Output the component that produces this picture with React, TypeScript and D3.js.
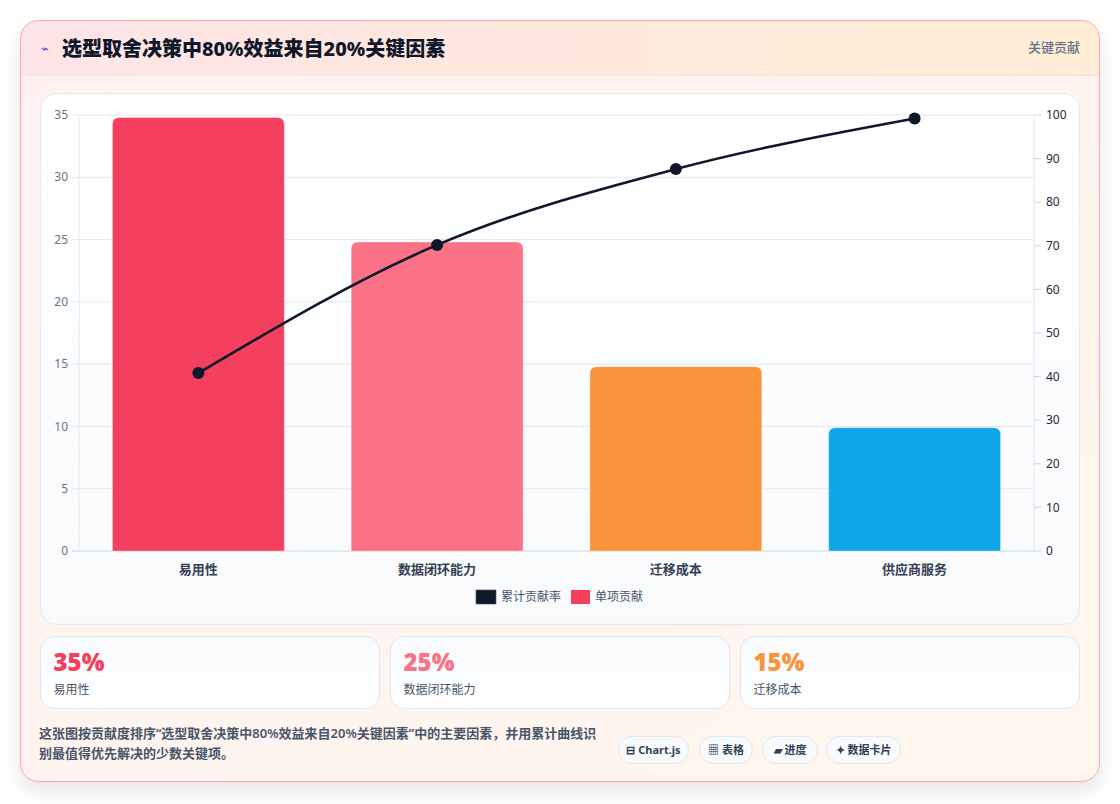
import React from 'react';
import * as d3 from 'd3';

const categories = ['易用性', '数据闭环能力', '迁移成本', '供应商服务'];
const contributions = [34.8, 24.8, 14.8, 9.9];
const cumulativeRate = [40.8, 70.2, 87.6, 99.2];
const barColors = ['#f43f5e', '#fb7185', '#fb923c', '#0ea5e9'];
const leftTicks = [0, 5, 10, 15, 20, 25, 30, 35];
const rightTicks = [0, 10, 20, 30, 40, 50, 60, 70, 80, 90, 100];
const legendItems = [
  { label: '累计贡献率', color: '#0f172a' },
  { label: '单项贡献', color: '#f43f5e' },
];
const cardValues = ['35%', '25%', '15%'];
const cardLabels = ['易用性', '数据闭环能力', '迁移成本'];
const badges = ['⊟ Chart.js', '▦ 表格', '▰ 进度', '✦ 数据卡片'];
const footerLines = [
  '这张图按贡献度排序“选型取舍决策中80%效益来自20%关键因素”中的主要因素，并用累计曲线识',
  '别最值得优先解决的少数关键项。',
];

const FONT = '"Noto Sans", "Noto Sans CJK SC", sans-serif';

// bar with rounded top corners, bottom flat
const barPath = (x: number, y: number, w: number, h: number, r: number) => {
  const rr = Math.min(r, w / 2, h);
  return `M${x},${y + h}V${y + rr}Q${x},${y} ${x + rr},${y}H${x + w - rr}Q${x + w},${y} ${x + w},${y + rr}V${y + h}Z`;
};

const Chart = () => {
  const left = 79, right = 1034, top = 115, bottom = 551;

  const x = d3.scaleBand<string>().domain(categories).range([left, right]).paddingInner(0.28).paddingOuter(0.14);
  const yL = d3.scaleLinear().domain([0, 35]).range([bottom, top]);
  const yR = d3.scaleLinear().domain([0, 100]).range([bottom, top]);

  const line = d3.line<number>()
    .x((_, i) => x(categories[i])! + x.bandwidth() / 2)
    .y(d => yR(d))
    .curve(d3.curveMonotoneX);

  return (
    <g fontFamily={FONT}>
      {/* grid + left axis */}
      {leftTicks.map(t => (
        <g key={'l' + t}>
          <line x1={left - 7} x2={right} y1={yL(t)} y2={yL(t)} stroke={t === 0 ? '#cbd5e1' : '#e2e8f0'} strokeWidth={1} />
          <text x={left - 11} y={yL(t)} dy="0.35em" textAnchor="end" fontSize={12} fill="#64748b">{t}</text>
        </g>
      ))}
      <line x1={left} x2={left} y1={top} y2={bottom} stroke="#e2e8f0" />
      <line x1={right} x2={right} y1={top} y2={bottom} stroke="#e2e8f0" />
      {rightTicks.map(t => (
        <g key={'r' + t}>
          <line x1={right} x2={right + 7} y1={yR(t)} y2={yR(t)} stroke="#cbd5e1" />
          <text x={right + 12} y={yR(t)} dy="0.35em" fontSize={12} fill="#1f2937">{t}</text>
        </g>
      ))}

      {/* bars */}
      {contributions.map((v, i) => {
        const bx = x(categories[i])!;
        const by = yL(v);
        return (
          <path key={categories[i]} d={barPath(bx, by, x.bandwidth(), bottom - by, 7)}
            fill={barColors[i]} stroke="rgba(255,255,255,0.35)" strokeWidth={1} />
        );
      })}

      {/* x labels */}
      {categories.map(c => (
        <text key={c} x={x(c)! + x.bandwidth() / 2} y={574} textAnchor="middle" fontSize={13} fontWeight={700} fill="#334155">{c}</text>
      ))}

      {/* cumulative line */}
      <path d={line(cumulativeRate) || ''} fill="none" stroke="#0f172a" strokeWidth={2.6} />
      {cumulativeRate.map((v, i) => (
        <circle key={i} cx={x(categories[i])! + x.bandwidth() / 2} cy={yR(v)} r={6} fill="#0f172a" />
      ))}

      {/* legend */}
      <g transform="translate(476,590)">
        <rect x={0} y={0} width={20} height={14} fill={legendItems[0].color} stroke="#475569" strokeWidth={0.6} />
        <text x={25} y={11} fontSize={12} fill="#475569">{legendItems[0].label}</text>
        <rect x={95} y={0} width={19} height={14} fill={legendItems[1].color} />
        <text x={119} y={11} fontSize={12} fill="#475569">{legendItems[1].label}</text>
      </g>
    </g>
  );
};

export default function App() {
  const badgeWidths = [70, 53, 55, 74];
  const badgeX = [618, 699, 762, 826];
  return (
    <div style={{ position: 'absolute', left: 0, top: 0, width: 1120, height: 804, background: '#ffffff' }}>
      <svg width={1120} height={804} style={{ display: 'block' }}>
        <defs>
          <linearGradient id="cardBg" x1="0" y1="0" x2="1" y2="1">
            <stop offset="0" stopColor="#fff1f2" />
            <stop offset="1" stopColor="#fff7ed" />
          </linearGradient>
          <linearGradient id="headBg" x1="0" y1="0" x2="1" y2="0">
            <stop offset="0" stopColor="#ffe4e6" />
            <stop offset="1" stopColor="#ffedd5" />
          </linearGradient>
          <linearGradient id="panelBg" x1="0" y1="0" x2="0" y2="1">
            <stop offset="0" stopColor="#ffffff" />
            <stop offset="1" stopColor="#f8fafc" />
          </linearGradient>
          <linearGradient id="kpiBg" x1="0" y1="0" x2="0" y2="1">
            <stop offset="0" stopColor="#f8fafc" />
            <stop offset="1" stopColor="#ffffff" />
          </linearGradient>
          <filter id="shadow" x="-10%" y="-10%" width="120%" height="130%">
            <feDropShadow dx="0" dy="10" stdDeviation="10" floodColor="#0f172a" floodOpacity="0.1" />
          </filter>
          <clipPath id="outerClip">
            <rect x={20.5} y={20.5} width={1079} height={761} rx={18} />
          </clipPath>
        </defs>

        {/* outer card */}
        <rect x={20.5} y={20.5} width={1079} height={761} rx={18} fill="url(#cardBg)" filter="url(#shadow)" />
        <g clipPath="url(#outerClip)">
          <rect x={20} y={20} width={1080} height={55} fill="url(#headBg)" />
          <line x1={20} x2={1100} y1={75.5} y2={75.5} stroke="#fbe0e0" />
        </g>
        <rect x={20.5} y={20.5} width={1079} height={761} rx={18} fill="none" stroke="#fda4af" />

        {/* header */}
        <text x={41} y={53} fontSize={13} fill="#4f46e5" fontFamily={FONT}>⌁</text>
        <text x={62} y={56} fontSize={20} fontWeight={800} fill="#0f172a" fontFamily={FONT}>选型取舍决策中80%效益来自20%关键因素</text>
        <text x={1080} y={52} textAnchor="end" fontSize={13} fontWeight={500} fill="#64748b" fontFamily={FONT}>关键贡献</text>

        {/* chart panel */}
        <rect x={40.5} y={93.5} width={1039} height={531} rx={16} fill="url(#panelBg)" stroke="#e2e8f0" />
        <Chart />

        {/* KPI cards */}
        {cardValues.map((v, i) => {
          const cx = 40.5 + i * 350;
          return (
            <g key={v} fontFamily={FONT}>
              <rect x={cx} y={636.5} width={339} height={72} rx={14} fill="url(#kpiBg)" stroke="#dde6f2" />
              <text x={cx + 13} y={671} fontSize={24} fontWeight={900} fill={barColors[i]}>{v}</text>
              <text x={cx + 13} y={694} fontSize={12} fill="#475569">{cardLabels[i]}</text>
            </g>
          );
        })}

        {/* footer */}
        {footerLines.map((l, i) => (
          <text key={i} x={39} y={738 + i * 20} fontSize={13} fontWeight={600} fill="#475569" fontFamily={FONT}>{l}</text>
        ))}
        {badges.map((b, i) => (
          <g key={b} fontFamily={FONT}>
            <rect x={badgeX[i] + 0.5} y={736.5} width={badgeWidths[i]} height={27} rx={13.5} fill="#f8fafc" stroke="#e2e8f0" />
            <text x={badgeX[i] + badgeWidths[i] / 2 + 0.5} y={754} textAnchor="middle" fontSize={11} fontWeight={700} fill="#334155">{b}</text>
          </g>
        ))}
      </svg>
    </div>
  );
}
